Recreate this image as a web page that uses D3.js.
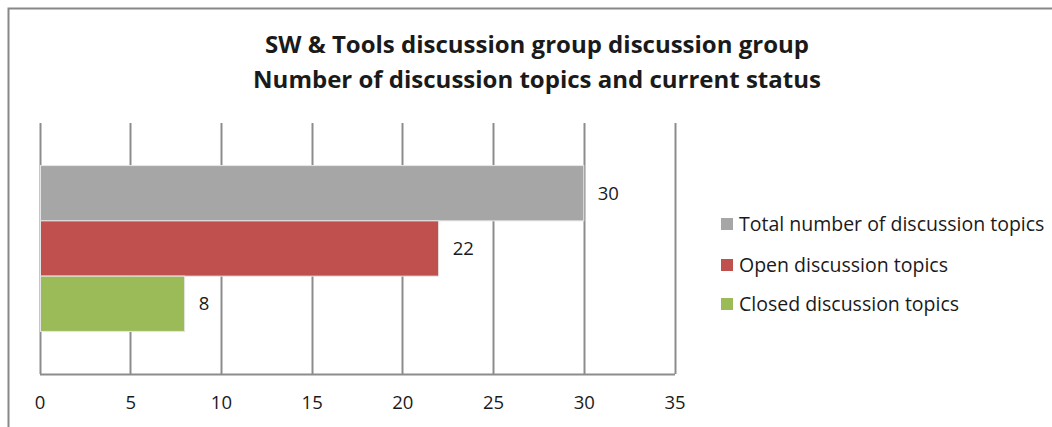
<!DOCTYPE html>
<html>
<head>
<meta charset="utf-8">
<script src="https://cdn.jsdelivr.net/npm/d3@7"></script>
<style>
  body { margin: 0; background: #fff; }
  svg text { font-family: "Open Sans", Lato, sans-serif; fill: #1a1a1a; }
</style>
</head>
<body>
<div id="container"></div>
<script>
/* CONSTANTS AND GLOBALS */
const width = 1052,
  height = 427;

/* DATA */
const titleLines = ["SW & Tools discussion group discussion group", "Number of discussion topics and current status"];
const series = ["Total number of discussion topics", "Open discussion topics", "Closed discussion topics"];
const values = [30, 22, 8];
const colors = ["#a6a6a6", "#c0504d", "#9bbb59"];
const ticks = [0, 5, 10, 15, 20, 25, 30, 35];

const svg = d3.select("#container")
  .append("svg")
  .attr("width", width)
  .attr("height", height)

// outer border
svg.append("rect")
  .attr("x", 8.5)
  .attr("y", 8.5)
  .attr("width", width + 20)
  .attr("height", height + 20)
  .attr("fill", "none")
  .attr("stroke", "#888")
  .attr("stroke-width", 2)

/* SCALES */
const xScale = d3.scaleLinear()
  .domain([0, 35])
  .range([39.5, 674.5])

const yScale = d3.scaleBand()
  .domain(series)
  .range([123, 374])
  .paddingInner(0)
  .paddingOuter(0.77)

const colorScale = d3.scaleOrdinal()
  .domain(series)
  .range(colors)

const data = series.map((s, i) => ({ name: s, value: values[i] }))

// gridlines
svg.append("g")
  .attr("class", "grid")
  .selectAll("line")
  .data(ticks)
  .join("line")
  .attr("x1", d => Math.round(xScale(d)) + 0.5)
  .attr("x2", d => Math.round(xScale(d)) + 0.5)
  .attr("y1", 123)
  .attr("y2", 374)
  .attr("stroke", "#8c8c8c")
  .attr("stroke-width", 2)

/* BARS */
svg.selectAll(".bar")
  .data(data)
  .join("rect")
  .attr("class", "bar")
  .attr("x", xScale(0) + 1)
  .attr("y", d => yScale(d.name))
  .attr("width", d => xScale(d.value) - xScale(0) - 1)
  .attr("height", yScale.bandwidth())
  .attr("fill", d => colorScale(d.name))
  .attr("stroke", "#e6e6e6")
  .attr("stroke-width", 1)

svg.selectAll(".label")
  .data(data)
  .join("text")
  .attr("class", "label")
  .attr("x", d => xScale(d.value) + 14)
  .attr("y", d => yScale(d.name) + yScale.bandwidth() / 2)
  .attr("dy", "0.35em")
  .style("font-size", "18.5px")
  .text(d => d.value)

/* AXIS */
const xAxis = svg.append("g")
  .attr("class", "x-axis")
  .attr("transform", `translate(0, 374)`)
  .call(d3.axisBottom(xScale).tickValues(ticks).tickSize(0).tickPadding(22))

xAxis.select(".domain")
  .attr("stroke", "#8c8c8c")
  .attr("stroke-width", 2)

xAxis.selectAll("text")
  .style("font-size", "18.5px")
  .style("font-family", "'Open Sans', Lato, sans-serif")
  .attr("fill", "#1a1a1a")

/* TITLE */
svg.append("g")
  .selectAll("text")
  .data(titleLines)
  .join("text")
  .attr("x", 537)
  .attr("y", (d, i) => 53 + i * 35)
  .attr("text-anchor", "middle")
  .style("font-size", "24px")
  .style("font-weight", "bold")
  .text(d => d)

/* LEGEND */
const legend = svg.append("g")
  .selectAll("g")
  .data(series)
  .join("g")
  .attr("transform", (d, i) => `translate(721, ${[224, 265, 304][i]})`)

legend.append("rect")
  .attr("x", 0)
  .attr("y", -6)
  .attr("width", 12)
  .attr("height", 12)
  .attr("fill", d => colorScale(d))

legend.append("text")
  .attr("x", 18)
  .attr("dy", "0.35em")
  .style("font-size", "19.5px")
  .text(d => d)
</script>
</body>
</html>
